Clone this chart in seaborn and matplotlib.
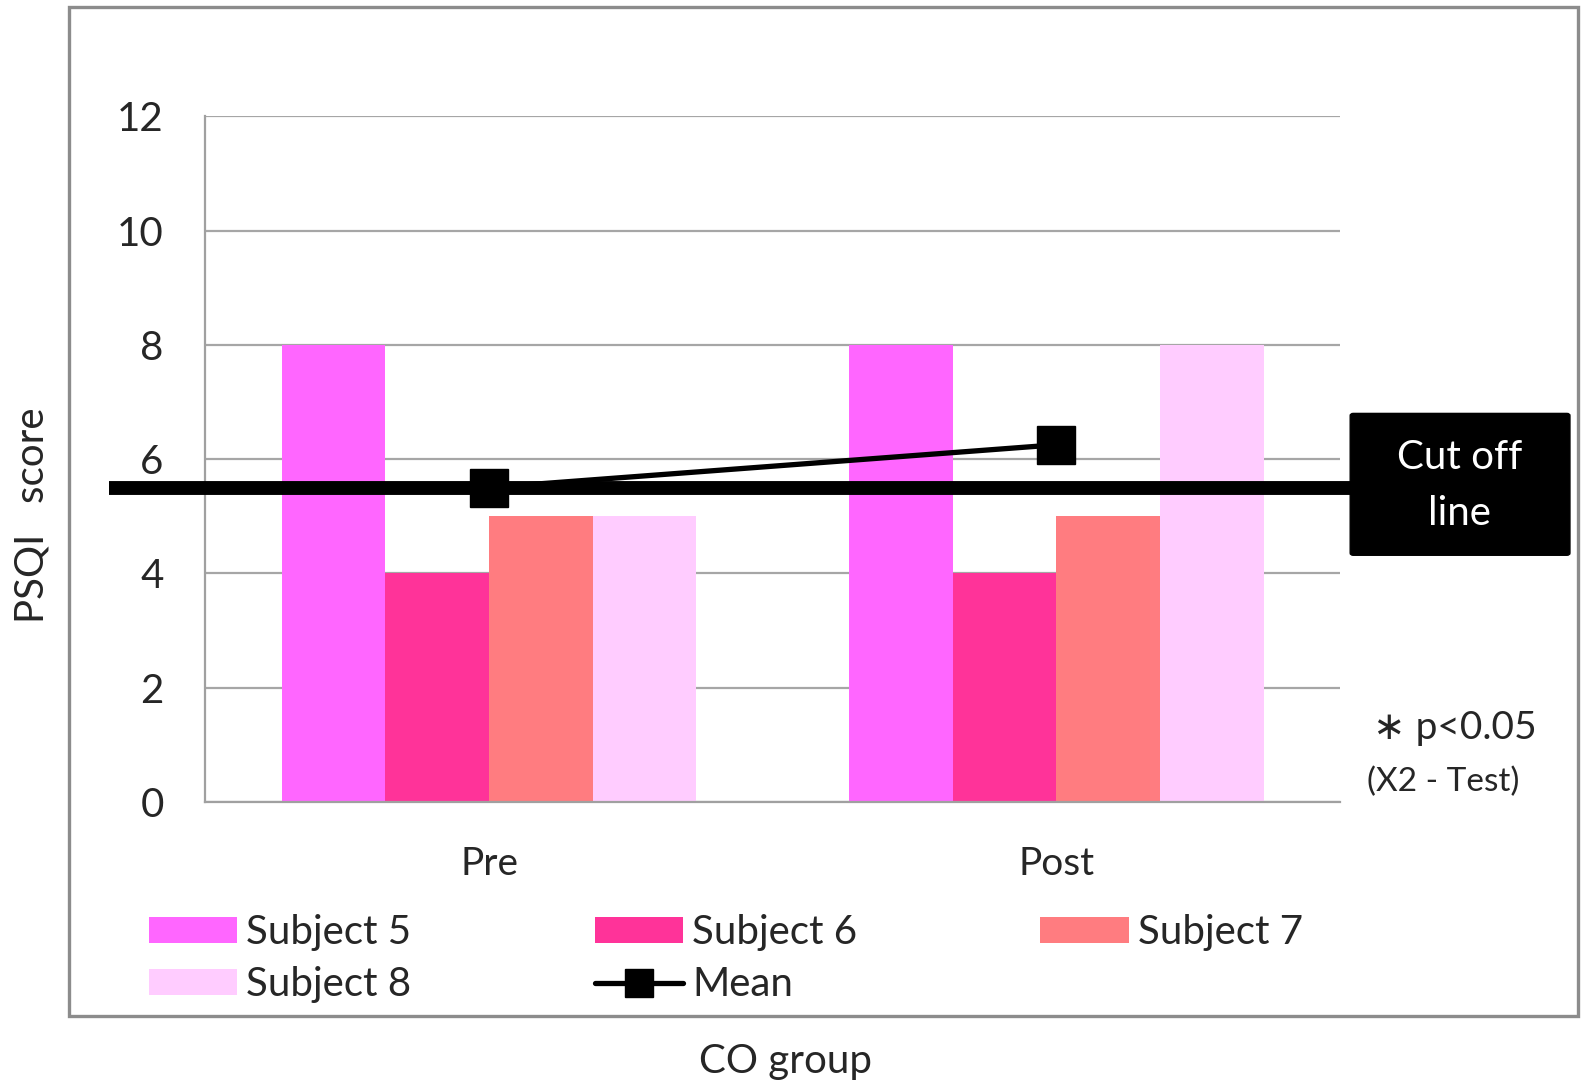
import matplotlib
matplotlib.use("Agg")
import matplotlib.pyplot as plt
from matplotlib.patches import Rectangle, FancyBboxPatch, Patch
from matplotlib.lines import Line2D
from matplotlib.transforms import blended_transform_factory
import seaborn as sns
import pandas as pd

# PSQI scores per subject, before and after
phases = ["Pre", "Post"]
subjects = ["Subject 5", "Subject 6", "Subject 7", "Subject 8"]
subject5 = [8, 8]
subject6 = [4, 4]
subject7 = [5, 5]
subject8 = [5, 8]
mean_scores = [5.5, 6.25]
cutoff = 5.5
colors = ["#ff66ff", "#ff3399", "#ff7c80", "#ffccff"]
yticks = [0, 2, 4, 6, 8, 10, 12]

df = pd.DataFrame({
    "phase": phases * 4,
    "subject": [s for s in subjects for _ in phases],
    "score": subject5 + subject6 + subject7 + subject8,
})

sns.set_style("white")
plt.rcParams["font.family"] = ["Lato", "DejaVu Sans"]

# layout grid in reference units (1568 x 1076)
W, H = 1568, 1076
fig = plt.figure(figsize=(15.86, 10.88), dpi=100)
ax = fig.add_axes([203 / W, 1 - 793 / H, (1325 - 203) / W, (793 - 115) / H])

sns.barplot(data=df, x="phase", y="score", hue="subject", order=phases,
            hue_order=subjects, palette=colors, width=0.73, gap=0,
            saturation=1, linewidth=0, ax=ax, legend=False, zorder=2)

ax.plot(phases, mean_scores, color="black", lw=3.8, marker="s", ms=27,
        zorder=5, solid_capstyle="butt")

# Cut-off line spanning past the plotting area
trans = blended_transform_factory(fig.transFigure, ax.transData)
ax.add_line(Line2D([108 / W, 1340 / W], [cutoff, cutoff], transform=trans,
                   color="black", lw=10, clip_on=False, zorder=4,
                   solid_capstyle="butt"))

ax.set_xlim(-0.5, 1.5)
ax.set_ylim(0, 12)
ax.set_yticks(yticks)
ax.grid(axis="y", color="#a6a6a6", lw=1.6, zorder=0)
ax.set_axisbelow(True)
for side in ["top", "right"]:
    ax.spines[side].set_visible(False)
for side in ["left", "bottom"]:
    ax.spines[side].set_color("#a0a0a0")
    ax.spines[side].set_linewidth(1.6)
ax.tick_params(axis="y", length=12, width=1.6, color="#a0a0a0",
               labelsize=29, pad=18)
ax.tick_params(axis="x", length=0, labelsize=28, pad=32)
ax.set_xlabel("")
ax.set_ylabel("")

fig.text(32 / W, 1 - 510 / H, "PSQI   score", rotation=90, ha="center",
         va="center", fontsize=29)
fig.text(777 / W, 1 - 1050 / H, "CO group", ha="center", va="center",
         fontsize=29)

# Outer frame
fig.patches.append(Rectangle((68 / W, 1 - 1005 / H), (1560 - 68) / W,
                             (1005 - 7) / H, transform=fig.transFigure,
                             fill=False, edgecolor="#8c8c8c", lw=2.4))

# Cut-off label box
fig.patches.append(FancyBboxPatch((1338 / W, 1 - 547 / H), 211 / W, 136 / H,
                                  boxstyle="round,pad=0.002",
                                  transform=fig.transFigure,
                                  facecolor="black", edgecolor="black"))
fig.text(1443 / W, 1 - 480 / H, "Cut off\nline", color="white", ha="center",
         va="center", fontsize=29, linespacing=1.65)

fig.text(1438 / W, 1 - 720 / H, "\u2217 p<0.05", ha="center", va="center",
         fontsize=28)
fig.text(1427 / W, 1 - 773 / H, "(X2 - Test)", ha="center", va="center",
         fontsize=24)

# Legend, filled row by row
h = {s: Patch(facecolor=c, edgecolor="none") for s, c in zip(subjects, colors)}
hmean = Line2D([], [], color="black", lw=3.8, marker="s", ms=20)
handles = [h["Subject 5"], h["Subject 8"], h["Subject 6"], hmean, h["Subject 7"]]
labels = ["Subject 5", "Subject 8", "Subject 6", "Mean", "Subject 7"]
fig.legend(handles, labels, ncol=3, loc="upper left",
           bbox_to_anchor=(147 / W, 1 - 904 / H), frameon=False, fontsize=29,
           handlelength=2.2, handleheight=0.62, handletextpad=0.22,
           columnspacing=4.55, borderpad=0, borderaxespad=0, labelspacing=0.38)

fig.savefig("out.png", dpi=100)
